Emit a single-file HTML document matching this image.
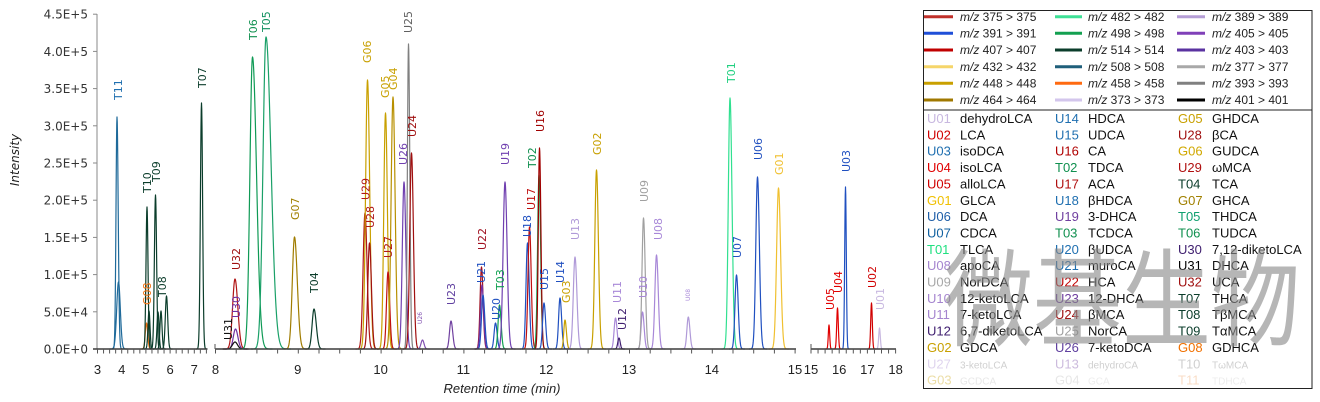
<!DOCTYPE html>
<html><head><meta charset="utf-8">
<style>
html,body{margin:0;padding:0;background:#fff;width:1320px;height:402px;overflow:hidden}
svg{display:block}
.yl{font-family:"DejaVu Sans",sans-serif;font-size:12px;fill:#333;text-anchor:end}
.xl{font-family:"Liberation Sans",sans-serif;font-size:13px;fill:#222;text-anchor:middle}
.pl{font-family:"DejaVu Sans",sans-serif;font-size:11px}
.lg{font-family:"Liberation Sans",sans-serif;font-size:12px;fill:#222}
.lc{font-family:"Liberation Sans","Noto Sans CJK SC",sans-serif;font-size:13px}
</style></head><body>
<svg width="1320" height="402" viewBox="0 0 1320 402" xmlns="http://www.w3.org/2000/svg">
<rect width="1320" height="402" fill="#fff"/>

<!-- Y axis -->
<line x1="97" y1="14" x2="97" y2="349" stroke="#8a8a8a" stroke-width="1"/>
<g stroke="#8a8a8a" stroke-width="1">
<line x1="93" y1="349" x2="97" y2="349"/><line x1="93" y1="311.8" x2="97" y2="311.8"/>
<line x1="93" y1="274.6" x2="97" y2="274.6"/><line x1="93" y1="237.4" x2="97" y2="237.4"/>
<line x1="93" y1="200.2" x2="97" y2="200.2"/><line x1="93" y1="163" x2="97" y2="163"/>
<line x1="93" y1="125.8" x2="97" y2="125.8"/><line x1="93" y1="88.6" x2="97" y2="88.6"/>
<line x1="93" y1="51.4" x2="97" y2="51.4"/><line x1="93" y1="14.2" x2="97" y2="14.2"/>
</g>
<g class="yl">
<text x="88" y="353.5">0.0E+0</text>
<text x="88" y="316.3">5.0E+4</text>
<text x="88" y="279.1">1.0E+5</text>
<text x="88" y="241.9">1.5E+5</text>
<text x="88" y="204.7">2.0E+5</text>
<text x="88" y="167.5">2.5E+5</text>
<text x="88" y="130.3">3.0E+5</text>
<text x="88" y="93.1">3.5E+5</text>
<text x="88" y="55.9">4.0E+5</text>
<text x="88" y="18.7">4.5E+5</text>
</g>
<text transform="translate(19,160) rotate(-90)" font-family="DejaVu Sans, sans-serif" font-size="12" font-style="italic" fill="#222" text-anchor="middle">Intensity</text>

<!-- peaks -->
<g id="peaks" fill="none" stroke-width="1.2" stroke-linejoin="round"></g>

<!-- X axis segments -->
<g stroke="#3c3c3c" stroke-width="1.4">
<line x1="93" y1="349" x2="207.5" y2="349"/>
<line x1="215" y1="349" x2="796" y2="349"/>
<line x1="811" y1="349" x2="896" y2="349"/>
</g>
<g id="ticks" stroke="#555" stroke-width="1"></g>
<line x1="215" y1="344" x2="215" y2="349" stroke="#555"/>
<line x1="811" y1="344" x2="811" y2="349" stroke="#555"/>

<g class="xl">
<text x="97.5" y="374">3</text><text x="121.7" y="374">4</text><text x="145.9" y="374">5</text>
<text x="170.1" y="374">6</text><text x="194.3" y="374">7</text><text x="215.5" y="374">8</text>
<text x="297.8" y="374">9</text><text x="380.6" y="374">10</text><text x="463.4" y="374">11</text>
<text x="546.2" y="374">12</text><text x="629" y="374">13</text><text x="711.8" y="374">14</text>
<text x="795" y="374">15</text>
<text x="811" y="374">15</text><text x="839.2" y="374">16</text><text x="867.4" y="374">17</text><text x="895.6" y="374">18</text>
</g>
<text x="502" y="393" font-family="Liberation Sans, sans-serif" font-size="13" font-style="italic" fill="#222" text-anchor="middle">Retention time (min)</text>

<!-- peak labels -->
<g class="pl">
<text transform="translate(122,100) rotate(-90)" fill="#2070b0">T11</text>
<text transform="translate(151,305) rotate(-90)" fill="#f07010">G08</text>
<text transform="translate(151,193) rotate(-90)" fill="#0b3d2b">T10</text>
<text transform="translate(160,182) rotate(-90)" fill="#0b3d2b">T09</text>
<text transform="translate(166,297) rotate(-90)" fill="#0b3d2b">T08</text>
<text transform="translate(206,88) rotate(-90)" fill="#0b3d2b">T07</text>
<text transform="translate(232,340) rotate(-90)" fill="#111">U31</text>
<text transform="translate(240,318) rotate(-90)" fill="#7030a0">U30</text>
<text transform="translate(240,270) rotate(-90)" fill="#a01010">U32</text>
<text transform="translate(257,40) rotate(-90)" fill="#10904f">T06</text>
<text transform="translate(270,32) rotate(-90)" fill="#10905f">T05</text>
<text transform="translate(299,220) rotate(-90)" fill="#a08000">G07</text>
<text transform="translate(318,293) rotate(-90)" fill="#0b3d2b">T04</text>
<text transform="translate(371,63) rotate(-90)" fill="#c8a000">G06</text>
<text transform="translate(369.5,200) rotate(-90)" fill="#b01818">U29</text>
<text transform="translate(374,228) rotate(-90)" fill="#b01818">U28</text>
<text transform="translate(389,98) rotate(-90)" fill="#c8a000">G05</text>
<text transform="translate(397,90) rotate(-90)" fill="#c8a000">G04</text>
<text transform="translate(392,258) rotate(-90)" fill="#b01818">U27</text>
<text transform="translate(407,165) rotate(-90)" fill="#7040b0">U26</text>
<text transform="translate(412,33) rotate(-90)" fill="#606060">U25</text>
<text transform="translate(416,137) rotate(-90)" fill="#a01010">U24</text>
<text transform="translate(422,324) rotate(-90)" fill="#8050b0" font-size="6">U26</text>
<text transform="translate(455,305) rotate(-90)" fill="#6040a0">U23</text>
<text transform="translate(485,283) rotate(-90)" fill="#2050c0">U21</text>
<text transform="translate(486,250) rotate(-90)" fill="#a01020">U22</text>
<text transform="translate(500,320) rotate(-90)" fill="#2050c0">U20</text>
<text transform="translate(504,290) rotate(-90)" fill="#10a050">T03</text>
<text transform="translate(509,165) rotate(-90)" fill="#7040b0">U19</text>
<text transform="translate(531,237) rotate(-90)" fill="#2050c0">U18</text>
<text transform="translate(535,210) rotate(-90)" fill="#c01010">U17</text>
<text transform="translate(536,168) rotate(-90)" fill="#10904f">T02</text>
<text transform="translate(544,132) rotate(-90)" fill="#a00000">U16</text>
<text transform="translate(548,290) rotate(-90)" fill="#2050c0">U15</text>
<text transform="translate(564,283) rotate(-90)" fill="#2050c0">U14</text>
<text transform="translate(570,303) rotate(-90)" fill="#c8a000">G03</text>
<text transform="translate(579,240) rotate(-90)" fill="#b09ad8">U13</text>
<text transform="translate(601,155) rotate(-90)" fill="#c8a000">G02</text>
<text transform="translate(621,303) rotate(-90)" fill="#a888d8">U11</text>
<text transform="translate(626,330) rotate(-90)" fill="#402070">U12</text>
<text transform="translate(647,298) rotate(-90)" fill="#a888d8">U10</text>
<text transform="translate(648,202) rotate(-90)" fill="#a0a0a0">U09</text>
<text transform="translate(662,240) rotate(-90)" fill="#a888d8">U08</text>
<text transform="translate(690,301) rotate(-90)" fill="#a888d8" font-size="6">U08</text>
<text transform="translate(735,83) rotate(-90)" fill="#20d080">T01</text>
<text transform="translate(741,258) rotate(-90)" fill="#2050c0">U07</text>
<text transform="translate(762,160) rotate(-90)" fill="#2050c0">U06</text>
<text transform="translate(783,175) rotate(-90)" fill="#f0c030">G01</text>
<text transform="translate(834,310) rotate(-90)" fill="#e00000">U05</text>
<text transform="translate(842,293) rotate(-90)" fill="#e00000">U04</text>
<text transform="translate(850,172) rotate(-90)" fill="#2050c0">U03</text>
<text transform="translate(876,288) rotate(-90)" fill="#d00000">U02</text>
<text transform="translate(884,310) rotate(-90)" fill="#c8b8e0">U01</text>
</g>

<!-- Legend -->
<rect x="923.5" y="10.5" width="388.5" height="378" fill="none" stroke="#222" stroke-width="1"/>
<line x1="923.5" y1="110" x2="1312" y2="110" stroke="#222" stroke-width="1"/>
<g stroke-width="3">
<line x1="924" y1="16.7" x2="953" y2="16.7" stroke="#c0302a"/>
<line x1="924" y1="33.3" x2="953" y2="33.3" stroke="#1f4fd8"/>
<line x1="924" y1="50" x2="953" y2="50" stroke="#c00000"/>
<line x1="924" y1="66.7" x2="953" y2="66.7" stroke="#f5d56a"/>
<line x1="924" y1="83.3" x2="953" y2="83.3" stroke="#c9a000"/>
<line x1="924" y1="100" x2="953" y2="100" stroke="#a07800"/>
<line x1="1055" y1="16.7" x2="1082" y2="16.7" stroke="#3ee096"/>
<line x1="1055" y1="33.3" x2="1082" y2="33.3" stroke="#13a050"/>
<line x1="1055" y1="50" x2="1082" y2="50" stroke="#0b3d2b"/>
<line x1="1055" y1="66.7" x2="1082" y2="66.7" stroke="#1f5f7a"/>
<line x1="1055" y1="83.3" x2="1082" y2="83.3" stroke="#ff6a10"/>
<line x1="1055" y1="100" x2="1082" y2="100" stroke="#d3c6ec"/>
<line x1="1177" y1="16.7" x2="1205" y2="16.7" stroke="#b59ed6"/>
<line x1="1177" y1="33.3" x2="1205" y2="33.3" stroke="#8040b8"/>
<line x1="1177" y1="50" x2="1205" y2="50" stroke="#5a32a0"/>
<line x1="1177" y1="66.7" x2="1205" y2="66.7" stroke="#a8a8a8"/>
<line x1="1177" y1="83.3" x2="1205" y2="83.3" stroke="#808080"/>
<line x1="1177" y1="100" x2="1205" y2="100" stroke="#000"/>
</g>
<g class="lg">
<text x="960" y="20.9"><tspan font-style="italic">m/z</tspan> 375 &gt; 375</text>
<text x="960" y="37.5"><tspan font-style="italic">m/z</tspan> 391 &gt; 391</text>
<text x="960" y="54.2"><tspan font-style="italic">m/z</tspan> 407 &gt; 407</text>
<text x="960" y="70.9"><tspan font-style="italic">m/z</tspan> 432 &gt; 432</text>
<text x="960" y="87.5"><tspan font-style="italic">m/z</tspan> 448 &gt; 448</text>
<text x="960" y="104.2"><tspan font-style="italic">m/z</tspan> 464 &gt; 464</text>
<text x="1088" y="20.9"><tspan font-style="italic">m/z</tspan> 482 &gt; 482</text>
<text x="1088" y="37.5"><tspan font-style="italic">m/z</tspan> 498 &gt; 498</text>
<text x="1088" y="54.2"><tspan font-style="italic">m/z</tspan> 514 &gt; 514</text>
<text x="1088" y="70.9"><tspan font-style="italic">m/z</tspan> 508 &gt; 508</text>
<text x="1088" y="87.5"><tspan font-style="italic">m/z</tspan> 458 &gt; 458</text>
<text x="1088" y="104.2"><tspan font-style="italic">m/z</tspan> 373 &gt; 373</text>
<text x="1212" y="20.9"><tspan font-style="italic">m/z</tspan> 389 &gt; 389</text>
<text x="1212" y="37.5"><tspan font-style="italic">m/z</tspan> 405 &gt; 405</text>
<text x="1212" y="54.2"><tspan font-style="italic">m/z</tspan> 403 &gt; 403</text>
<text x="1212" y="70.9"><tspan font-style="italic">m/z</tspan> 377 &gt; 377</text>
<text x="1212" y="87.5"><tspan font-style="italic">m/z</tspan> 393 &gt; 393</text>
<text x="1212" y="104.2"><tspan font-style="italic">m/z</tspan> 401 &gt; 401</text>
</g>

<g class="lc">
<!-- column 1 -->
<text x="927" y="123"><tspan fill="#c8b8e0">U01</tspan><tspan x="960" fill="#111">dehydroLCA</tspan></text>
<text x="927" y="139.4"><tspan fill="#d00000">U02</tspan><tspan x="960" fill="#111">LCA</tspan></text>
<text x="927" y="155.7"><tspan fill="#1f6fb0">U03</tspan><tspan x="960" fill="#111">isoDCA</tspan></text>
<text x="927" y="172.1"><tspan fill="#e00000">U04</tspan><tspan x="960" fill="#111">isoLCA</tspan></text>
<text x="927" y="188.4"><tspan fill="#d00000">U05</tspan><tspan x="960" fill="#111">alloLCA</tspan></text>
<text x="927" y="204.8"><tspan fill="#f0c000">G01</tspan><tspan x="960" fill="#111">GLCA</tspan></text>
<text x="927" y="221.1"><tspan fill="#1f5fa8">U06</tspan><tspan x="960" fill="#111">DCA</tspan></text>
<text x="927" y="237.5"><tspan fill="#1060a0">U07</tspan><tspan x="960" fill="#111">CDCA</tspan></text>
<text x="927" y="253.8"><tspan fill="#20e080">T01</tspan><tspan x="960" fill="#111">TLCA</tspan></text>
<text x="927" y="270.2"><tspan fill="#a585cf">U08</tspan><tspan x="960" fill="#111">apoCA</tspan></text>
<text x="927" y="286.5"><tspan fill="#a8a8a8">U09</tspan><tspan x="960" fill="#111">NorDCA</tspan></text>
<text x="927" y="302.9"><tspan fill="#a585cf">U10</tspan><tspan x="960" fill="#111">12-ketoLCA</tspan></text>
<text x="927" y="319.2"><tspan fill="#a585cf">U11</tspan><tspan x="960" fill="#111">7-ketoLCA</tspan></text>
<text x="927" y="335.6"><tspan fill="#402070">U12</tspan><tspan x="960" fill="#111">6,7-diketoLCA</tspan></text>
<text x="927" y="351.9"><tspan fill="#c8a000">G02</tspan><tspan x="960" fill="#111">GDCA</tspan></text>
<!-- column 2 -->
<text x="1055" y="123"><tspan fill="#1f6fb0">U14</tspan><tspan x="1088" fill="#111">HDCA</tspan></text>
<text x="1055" y="139.4"><tspan fill="#1f6fb0">U15</tspan><tspan x="1088" fill="#111">UDCA</tspan></text>
<text x="1055" y="155.7"><tspan fill="#b00000">U16</tspan><tspan x="1088" fill="#111">CA</tspan></text>
<text x="1055" y="172.1"><tspan fill="#10904f">T02</tspan><tspan x="1088" fill="#111">TDCA</tspan></text>
<text x="1055" y="188.4"><tspan fill="#b01010">U17</tspan><tspan x="1088" fill="#111">ACA</tspan></text>
<text x="1055" y="204.8"><tspan fill="#1f6fb0">U18</tspan><tspan x="1088" fill="#111">βHDCA</tspan></text>
<text x="1055" y="221.1"><tspan fill="#7040a0">U19</tspan><tspan x="1088" fill="#111">3-DHCA</tspan></text>
<text x="1055" y="237.5"><tspan fill="#10904f">T03</tspan><tspan x="1088" fill="#111">TCDCA</tspan></text>
<text x="1055" y="253.8"><tspan fill="#1f6fb0">U20</tspan><tspan x="1088" fill="#111">βUDCA</tspan></text>
<text x="1055" y="270.2"><tspan fill="#1f6fb0">U21</tspan><tspan x="1088" fill="#111">muroCA</tspan></text>
<text x="1055" y="286.5"><tspan fill="#c00000">U22</tspan><tspan x="1088" fill="#111">HCA</tspan></text>
<text x="1055" y="302.9"><tspan fill="#7040a0">U23</tspan><tspan x="1088" fill="#111">12-DHCA</tspan></text>
<text x="1055" y="319.2"><tspan fill="#a01010">U24</tspan><tspan x="1088" fill="#111">βMCA</tspan></text>
<text x="1055" y="335.6"><tspan fill="#a0a0a0">U25</tspan><tspan x="1088" fill="#111">NorCA</tspan></text>
<text x="1055" y="351.9"><tspan fill="#6040a0">U26</tspan><tspan x="1088" fill="#111">7-ketoDCA</tspan></text>
<!-- column 3 -->
<text x="1178" y="123"><tspan fill="#c8a000">G05</tspan><tspan x="1212" fill="#111">GHDCA</tspan></text>
<text x="1178" y="139.4"><tspan fill="#a01010">U28</tspan><tspan x="1212" fill="#111">βCA</tspan></text>
<text x="1178" y="155.7"><tspan fill="#d0a800">G06</tspan><tspan x="1212" fill="#111">GUDCA</tspan></text>
<text x="1178" y="172.1"><tspan fill="#b01010">U29</tspan><tspan x="1212" fill="#111">ωMCA</tspan></text>
<text x="1178" y="188.4"><tspan fill="#0b3d2b">T04</tspan><tspan x="1212" fill="#111">TCA</tspan></text>
<text x="1178" y="204.8"><tspan fill="#a08000">G07</tspan><tspan x="1212" fill="#111">GHCA</tspan></text>
<text x="1178" y="221.1"><tspan fill="#10a070">T05</tspan><tspan x="1212" fill="#111">THDCA</tspan></text>
<text x="1178" y="237.5"><tspan fill="#10904f">T06</tspan><tspan x="1212" fill="#111">TUDCA</tspan></text>
<text x="1178" y="253.8"><tspan fill="#402070">U30</tspan><tspan x="1212" fill="#111">7,12-diketoLCA</tspan></text>
<text x="1178" y="270.2"><tspan fill="#000">U31</tspan><tspan x="1212" fill="#111">DHCA</tspan></text>
<text x="1178" y="286.5"><tspan fill="#a01010">U32</tspan><tspan x="1212" fill="#111">UCA</tspan></text>
<text x="1178" y="302.9"><tspan fill="#0b3d2b">T07</tspan><tspan x="1212" fill="#111">THCA</tspan></text>
<text x="1178" y="319.2"><tspan fill="#0b3d2b">T08</tspan><tspan x="1212" fill="#111">TβMCA</tspan></text>
<text x="1178" y="335.6"><tspan fill="#0b3d2b">T09</tspan><tspan x="1212" fill="#111">TαMCA</tspan></text>
<text x="1178" y="351.9"><tspan fill="#f07000">G08</tspan><tspan x="1212" fill="#111">GDHCA</tspan></text>
<!-- faded rows -->
<g opacity="0.35">
<text x="927" y="368.3"><tspan fill="#a585cf">U27</tspan><tspan x="960" fill="#777" font-size="10">3-ketoLCA</tspan></text>
<text x="927" y="384.6"><tspan fill="#c8a000">G03</tspan><tspan x="960" fill="#bbb" font-size="10">GCDCA</tspan></text>
<text x="1055" y="368.3"><tspan fill="#7040a0">U13</tspan><tspan x="1088" fill="#777" font-size="10">dehydroCA</tspan></text>
<text x="1055" y="384.6"><tspan fill="#bbb">G04</tspan><tspan x="1088" fill="#ccc" font-size="10">GCA</tspan></text>
<text x="1178" y="368.3"><tspan fill="#777">T10</tspan><tspan x="1212" fill="#777" font-size="10">TωMCA</tspan></text>
<text x="1178" y="384.6"><tspan fill="#f0a060">T11</tspan><tspan x="1212" fill="#ccc" font-size="10">TDHCA</tspan></text>
</g>
</g>

<!-- watermark -->
<text transform="translate(944,338) scale(0.84,1)" font-family="Noto Sans CJK SC, WenQuanYi Zen Hei, sans-serif" font-size="106" letter-spacing="0" fill="#8a8a8a" opacity="0.62">微基生物</text>

</svg>
<script>
(function(){
var y0=349;
var P=[
[117,117,1.0,1.2,"#1f6a9a"],[118.5,282,1.8,1.8,"#1f6a9a"],
[146.5,323,1.2,1.2,"#f07010"],[147,207,1.0,1.0,"#0b3d2b"],[149,311,1.0,1.0,"#0b3d2b"],
[155.5,195,1.1,1.1,"#0b3d2b"],[158,312,1.0,1.0,"#0b3d2b"],[161,311,1.0,1.0,"#0b3d2b"],
[166.5,296,1.2,1.2,"#0b3d2b"],[201.5,103,1.1,1.1,"#0b3d2b"],
[235,279,2.4,2.8,"#b01515"],[235.5,329,2.2,2.4,"#7030a0"],[235,342,2.5,2.5,"#111111"],
[252.5,57,2.6,4.0,"#0f9a55"],[266,37,3.0,5.0,"#1aa068"],
[294.5,237,2.2,2.8,"#a07c00"],[314,309,1.9,2.3,"#0b3d2b"],
[365,213,1.9,2.1,"#b01818"],[367.5,80,1.9,2.2,"#c9a000"],[369.5,243,1.7,1.9,"#a01010"],
[385.5,113,1.7,1.9,"#c8a000"],[388,272,1.5,1.7,"#c01010"],[393,97,1.9,2.1,"#b89000"],
[404,182,1.7,1.9,"#7040b0"],[408.5,44,1.1,1.3,"#808080"],[411.5,153,1.7,1.9,"#a01010"],
[422.5,340,1.5,1.5,"#8050b0"],[451,321,1.5,1.7,"#7040a0"],
[481.5,267,1.4,1.6,"#a01020"],[482,285,1.5,1.6,"#7030a0"],[483,295,1.5,1.7,"#2050c0"],
[495.5,323,1.4,1.6,"#2050c0"],[499.5,305,1.4,1.6,"#10a050"],[505,182,1.9,2.1,"#7040b0"],
[527.5,243,1.5,1.7,"#2050c0"],[529.5,227,1.5,1.7,"#c01010"],[539,175,1.4,1.6,"#10a050"],
[539.5,148,1.2,1.4,"#a00000"],[544,303,1.4,1.6,"#2050c0"],[560,298,1.4,1.6,"#2050c0"],
[565,320,1.2,1.4,"#c8a000"],[575,257,1.7,1.9,"#b09ad8"],[596.5,170,1.7,1.9,"#c8a000"],
[615.5,318,1.4,1.6,"#a888d8"],[619,338,1.2,1.2,"#402070"],[642.5,312,1.4,1.6,"#a888d8"],
[643.5,218,1.5,1.7,"#a0a0a0"],[656.5,255,1.6,1.8,"#a888d8"],[688.3,317,1.4,1.6,"#b09ad8"],
[730,98,1.7,2.0,"#30e090"],[736.5,275,1.5,1.7,"#2050c0"],[757.5,177,1.7,1.9,"#2050c0"],
[778.5,188,1.9,2.1,"#f0c030"],
[829,325,0.7,0.7,"#e00000"],[837.5,308,0.8,0.8,"#e00000"],[845.5,187,0.8,0.8,"#2050c0"],
[871.5,303,0.8,0.8,"#d00000"],[879.5,328,0.8,0.8,"#c8b8e0"]
];
var NS="http://www.w3.org/2000/svg";
var g=document.getElementById("peaks");
P.forEach(function(p){
  var x=p[0],top=p[1],sl=p[2],sr=p[3],c=p[4],h=y0-top,d="";
  var pts=[];
  for(var xx=x-5*sl;xx<x;xx+=0.25)pts.push(xx);
  pts.push(x);
  for(var xx2=x+0.25;xx2<=x+5*sr+0.001;xx2+=0.25)pts.push(xx2);
  pts.forEach(function(xx,i){
    var s=xx<x?sl:sr;
    var y=y0-h*Math.exp(-0.5*Math.pow((xx-x)/s,2));
    d+=(i?"L":"M")+xx.toFixed(2)+" "+y.toFixed(2);
  });
  var e=document.createElementNS(NS,"path");
  e.setAttribute("d",d);e.setAttribute("stroke",c);
  g.appendChild(e);
});
var t=document.getElementById("ticks");
function ticks(a,b,x0,sc,t0){
  for(var v=a;v<=b+0.001;v+=0.25){
    var x=x0+(v-t0)*sc;
    var l=document.createElementNS(NS,"line");
    l.setAttribute("x1",x.toFixed(2));l.setAttribute("x2",x.toFixed(2));
    l.setAttribute("y1",349);l.setAttribute("y2",353.5);
    t.appendChild(l);
  }
}
ticks(3,7.5,97.5,24.2,3);
ticks(8,15,215.5,82.8,8);
ticks(15,18,811,28.2,15);
})();
</script>
</body></html>
